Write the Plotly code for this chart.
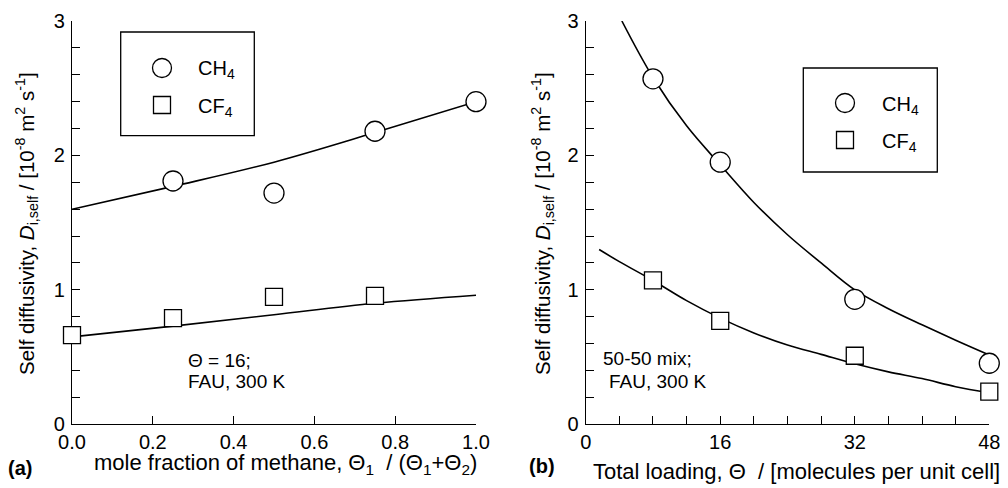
import plotly.graph_objects as go

# ---------------- data: panel (a) ----------------
frac_pts = [0.25, 0.5, 0.75, 1.0]
ch4_a = [1.81, 1.72, 2.18, 2.40]
frac_pts_cf4 = [0.0, 0.25, 0.5, 0.75]
cf4_a = [0.663, 0.79, 0.948, 0.955]

frac_fit = [0.0, 0.25, 0.5, 0.75, 1.0]
ch4_a_fit = [1.60, 1.77, 1.95, 2.17, 2.40]
cf4_a_fit = [0.65, 0.73, 0.815, 0.90, 0.96]

# ---------------- data: panel (b) ----------------
load_pts = [8, 16, 32, 48]
ch4_b = [2.57, 1.95, 0.93, 0.454]
cf4_b = [1.07, 0.77, 0.51, 0.243]

ch4_b_fit_x = [4.3, 8, 12, 16, 20, 24, 28, 32, 36, 40, 44, 48]
ch4_b_fit_y = [3.0, 2.58, 2.22, 1.93, 1.65, 1.41, 1.20, 1.00, 0.86, 0.74, 0.625, 0.515]
cf4_b_fit_x = [1.6, 4, 8, 12, 16, 20, 24, 28, 32, 36, 40, 44, 48]
cf4_b_fit_y = [1.30, 1.21, 1.07, 0.92, 0.79, 0.68, 0.59, 0.52, 0.45, 0.39, 0.34, 0.28, 0.235]

x_a_ticks = [0.0, 0.2, 0.4, 0.6, 0.8, 1.0]
x_a_ticklabels = ["0.0", "0.2", "0.4", "0.6", "0.8", "1.0"]
x_b_ticks = [0, 16, 32, 48]
y_ticks = [0, 1, 2, 3]

# page body has an 8px margin, so the figure is offset by (8, 8)
OFF = 8
W, H = 1000, 480
FONT = "Liberation Sans, Arial, sans-serif"


def px(x):
    return (x - OFF) / W


def py(y):
    return 1 - (y - OFF) / H


fig = go.Figure()

circle_marker = dict(symbol="circle", size=20, color="white", line=dict(color="black", width=1.3))
square_marker = dict(symbol="square", size=17, color="white", line=dict(color="black", width=1.3))
fit_line = dict(color="black", width=1.6, shape="spline", smoothing=1.0)

# panel (a)
fig.add_trace(go.Scatter(x=frac_fit, y=ch4_a_fit, mode="lines", line=fit_line, xaxis="x", yaxis="y", cliponaxis=False))
fig.add_trace(go.Scatter(x=frac_fit, y=cf4_a_fit, mode="lines", line=fit_line, xaxis="x", yaxis="y", cliponaxis=False))
fig.add_trace(go.Scatter(x=frac_pts, y=ch4_a, mode="markers", marker=circle_marker, xaxis="x", yaxis="y", cliponaxis=False, name="CH4"))
fig.add_trace(go.Scatter(x=frac_pts_cf4, y=cf4_a, mode="markers", marker=square_marker, xaxis="x", yaxis="y", cliponaxis=False, name="CF4"))

# panel (b)
fig.add_trace(go.Scatter(x=ch4_b_fit_x, y=ch4_b_fit_y, mode="lines", line=fit_line, xaxis="x2", yaxis="y2", cliponaxis=False))
fig.add_trace(go.Scatter(x=cf4_b_fit_x, y=cf4_b_fit_y, mode="lines", line=fit_line, xaxis="x2", yaxis="y2", cliponaxis=False))
fig.add_trace(go.Scatter(x=load_pts, y=ch4_b, mode="markers", marker=circle_marker, xaxis="x2", yaxis="y2", cliponaxis=False, name="CH4"))
fig.add_trace(go.Scatter(x=load_pts, y=cf4_b, mode="markers", marker=square_marker, xaxis="x2", yaxis="y2", cliponaxis=False, name="CF4"))

axis_common = dict(
    showline=True, linecolor="black", linewidth=1.3, mirror=False,
    showgrid=False, zeroline=False, automargin=False,
    ticks="inside", ticklen=8, tickwidth=1.3, tickcolor="black",
    tickfont=dict(family=FONT, size=20, color="black"),
    layer="below traces",
)
minor_y = dict(dtick=0.2, ticks="inside", ticklen=8, tickwidth=1.3, tickcolor="black", showgrid=False)
minor_x = dict(dtick=4, ticks="inside", ticklen=8, tickwidth=1.3, tickcolor="black", showgrid=False)

ydom = [py(424.3), py(21)]

fig.update_layout(
    width=W, height=H,
    margin=dict(l=0, r=0, t=0, b=0, pad=0),
    paper_bgcolor="white", plot_bgcolor="white",
    showlegend=False,
    font=dict(family=FONT, color="black"),
    xaxis=dict(domain=[px(72), px(476)], range=[0, 1.0], tickvals=x_a_ticks, ticktext=x_a_ticklabels,
               anchor="y", ticklabelstandoff=0, **axis_common),
    yaxis=dict(domain=ydom, range=[0, 3], tickvals=y_ticks, anchor="x", minor=minor_y,
               ticklabelstandoff=2, **axis_common),
    xaxis2=dict(domain=[px(585.7), px(989.3)], range=[0, 48], tickvals=x_b_ticks, anchor="y2",
                minor=minor_x, ticklabelstandoff=0, **axis_common),
    yaxis2=dict(domain=ydom, range=[0, 3], tickvals=y_ticks, anchor="x2", minor=minor_y,
                ticklabelstandoff=2, **axis_common),
)

ann = []
YF = dict(family=FONT, size=20.5, color="black")
XF = dict(family=FONT, size=22, color="black")
ytitle = "Self diffusivity, <i>D</i><sub>i,self</sub> / [10<sup>-8</sup> m<sup>2</sup> s<sup>-1</sup>]"
ann.append(dict(x=px(27), y=py(224), xref="paper", yref="paper", text=ytitle, textangle=-90,
                showarrow=False, font=YF, xanchor="center", yanchor="middle"))
ann.append(dict(x=px(543), y=py(224), xref="paper", yref="paper", text=ytitle, textangle=-90,
                showarrow=False, font=YF, xanchor="center", yanchor="middle"))
ann.append(dict(x=px(285), y=py(464), xref="paper", yref="paper",
                text="mole fraction of methane, Θ<sub>1</sub>  / (Θ<sub>1</sub>+Θ<sub>2</sub>)",
                showarrow=False, font=XF, xanchor="center", yanchor="middle"))
ann.append(dict(x=px(796), y=py(471), xref="paper", yref="paper",
                text="Total loading, Θ  / [molecules per unit cell]",
                showarrow=False, font=XF, xanchor="center", yanchor="middle"))
LF = dict(family=FONT, size=20, color="black")
ann.append(dict(x=px(6), y=py(468), xref="paper", yref="paper", text="<b>(a)</b>",
                showarrow=False, font=LF, xanchor="left", yanchor="middle"))
ann.append(dict(x=px(527), y=py(466), xref="paper", yref="paper", text="<b>(b)</b>",
                showarrow=False, font=LF, xanchor="left", yanchor="middle"))
NF = dict(family=FONT, size=19, color="black")
ann.append(dict(x=px(186), y=py(360), xref="paper", yref="paper", text="Θ = 16;",
                showarrow=False, font=NF, xanchor="left", yanchor="middle"))
ann.append(dict(x=px(186), y=py(381), xref="paper", yref="paper", text="FAU, 300 K",
                showarrow=False, font=NF, xanchor="left", yanchor="middle"))
ann.append(dict(x=px(601), y=py(358), xref="paper", yref="paper", text="50-50 mix;",
                showarrow=False, font=NF, xanchor="left", yanchor="middle"))
ann.append(dict(x=px(607), y=py(381), xref="paper", yref="paper", text="FAU, 300 K",
                showarrow=False, font=NF, xanchor="left", yanchor="middle"))

# legends (manual boxes)
shapes = []
GF = dict(family=FONT, size=20, color="black")
legends = [
    dict(box=(120.7, 32, 254.3, 135.7), mx=162, cy=68, sy=105, tx=196),
    dict(box=(803.3, 68, 937.3, 172), mx=845, cy=103, sy=140, tx=880),
]
for lg in legends:
    x0, y0, x1, y1 = lg["box"]
    shapes.append(dict(type="rect", xref="paper", yref="paper", x0=px(x0), x1=px(x1), y0=py(y1), y1=py(y0),
                       line=dict(color="black", width=1.3), fillcolor="rgba(0,0,0,0)"))
    r = 9.5
    shapes.append(dict(type="circle", xref="paper", yref="paper",
                       x0=px(lg["mx"] - r), x1=px(lg["mx"] + r), y0=py(lg["cy"] + r), y1=py(lg["cy"] - r),
                       line=dict(color="black", width=1.3), fillcolor="white"))
    s = 8.5
    shapes.append(dict(type="rect", xref="paper", yref="paper",
                       x0=px(lg["mx"] - s), x1=px(lg["mx"] + s), y0=py(lg["sy"] + s), y1=py(lg["sy"] - s),
                       line=dict(color="black", width=1.3), fillcolor="white"))
    ann.append(dict(x=px(lg["tx"]), y=py(lg["cy"] + 2), xref="paper", yref="paper", text="CH<sub>4</sub>",
                    showarrow=False, font=GF, xanchor="left", yanchor="middle"))
    ann.append(dict(x=px(lg["tx"]), y=py(lg["sy"] + 2), xref="paper", yref="paper", text="CF<sub>4</sub>",
                    showarrow=False, font=GF, xanchor="left", yanchor="middle"))

fig.update_layout(annotations=ann, shapes=shapes)
fig.write_html("out.html")
